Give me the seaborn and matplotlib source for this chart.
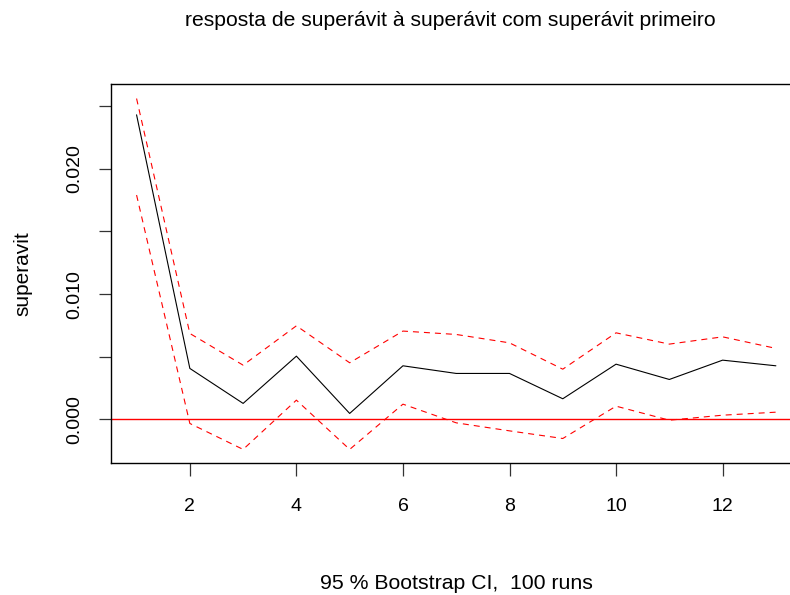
import numpy as np
import pandas as pd
import matplotlib
matplotlib.use("Agg")
import matplotlib.pyplot as plt
import seaborn as sns

steps = list(range(1, 14))
irf = [0.0243, 0.00407, 0.00128, 0.00505, 0.00048, 0.00428, 0.00367, 0.00367,
       0.00165, 0.00441, 0.00319, 0.00473, 0.00428]
upper = [0.0256, 0.00686, 0.00433, 0.00747, 0.00452, 0.00705, 0.00678, 0.00611,
         0.00401, 0.00691, 0.00601, 0.00659, 0.00567]
lower = [0.0179, -0.00032, -0.00239, 0.00154, -0.00239, 0.00122, -0.00027, -0.00091,
         -0.00152, 0.00106, -0.00006, 0.00034, 0.00058]

title = "resposta de superávit à superávit com superávit primeiro"
xlabel = "95 % Bootstrap CI,  100 runs"
ylabel = "superavit"
yticks = [0.0, 0.005, 0.010, 0.015, 0.020, 0.025]
ytick_labels = ["0.000", "", "0.010", "", "0.020", ""]
xticks = [2, 4, 6, 8, 10, 12]

df = pd.DataFrame({"step": steps, "irf": irf, "upper": upper, "lower": lower})

sns.set_style("white")
plt.rcParams["font.family"] = ["Liberation Sans", "DejaVu Sans"]
plt.rcParams["text.color"] = "black"
plt.rcParams["axes.labelcolor"] = "black"

fig = plt.figure(figsize=(7.9, 5.95), dpi=100)
ax = fig.add_axes([0.1405, 0.2213, 0.874, 0.6367])

sns.lineplot(data=df, x="step", y="irf", ax=ax, color="black", linewidth=0.8)
for col in ["upper", "lower"]:
    sns.lineplot(data=df, x="step", y=col, ax=ax, color="red", linewidth=0.8,
                 dashes=False)
for line in ax.lines[1:3]:
    line.set_linestyle((0, (5.4, 4.5)))
ax.axhline(0, color="red", linewidth=1.0)

ax.set_xlim(0.52, 13.48)
ax.set_ylim(-0.0035, 0.02672)
ax.set_xticks(xticks)
ax.set_xticklabels([str(t) for t in xticks])
ax.set_yticks(yticks)
ax.set_yticklabels(ytick_labels)

for s in ["left", "top", "bottom", "right"]:
    ax.spines[s].set_color("black")
    ax.spines[s].set_linewidth(1.0)

ax.tick_params(axis="both", which="major", length=9, width=0.9, color="#333333",
               labelsize=14, labelcolor="black", direction="out",
               bottom=True, left=True, top=False, right=False)
ax.tick_params(axis="y", labelrotation=90, pad=11)
ax.tick_params(axis="x", pad=16)
for lbl in ax.get_yticklabels():
    lbl.set_va("center")

ax.set_xlabel(xlabel, fontsize=15.3, labelpad=42.5, color="black")
ax.set_ylabel(ylabel, fontsize=15, labelpad=24.5, color="black")
fig.text(0.57, 0.965, title, ha="center", va="center", fontsize=15.2,
         color="black")

fig.savefig("out.png", dpi=100)
